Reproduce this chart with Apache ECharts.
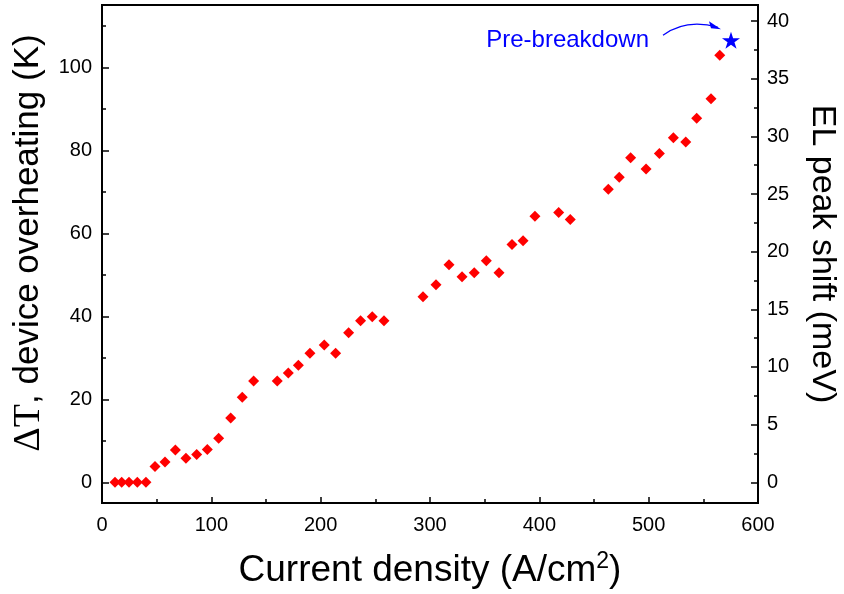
<!DOCTYPE html>
<html>
<head>
<meta charset="utf-8">
<script src="https://cdn.jsdelivr.net/npm/echarts@6/dist/echarts.min.js"></script>
<style>
html,body{margin:0;padding:0;background:#fff;}
#chart{width:844px;height:594px;}
</style>
</head>
<body>
<div id="chart"></div>
<script>
// Current density (A/cm^2)
var currentDensity = [11.9, 18.0, 24.7, 32.3, 40.2, 48.5, 57.6, 67.1, 76.8, 86.6, 96.3, 106.7, 117.7, 128.3, 138.7,
  160.3, 170.4, 179.6, 190.2, 203.3, 213.7, 225.6, 236.5, 247.2, 257.9,
  293.6, 305.5, 317.4, 329.3, 340.5, 351.5, 363.1, 375.0, 385.1, 396.0, 417.7, 428.3,
  463.1, 473.1, 483.5, 497.6, 509.8, 522.6, 533.9, 543.9, 557.0, 565.0];
// Delta T, device overheating (K)
var overheating = [0, 0, 0, 0, 0, 3.8, 4.9, 7.8, 5.8, 6.7, 7.9, 10.6, 15.5, 20.5, 24.4,
  24.4, 26.3, 28.2, 31.1, 33.1, 31.1, 36.0, 38.9, 39.9, 38.9,
  44.7, 47.6, 52.4, 49.5, 50.5, 53.4, 50.5, 57.3, 58.2, 64.1, 65.0, 63.3,
  70.6, 73.5, 78.2, 75.5, 79.2, 83.0, 82.0, 87.7, 92.4, 102.9];
var breakdownX = [575.3];
var breakdownY = [106.5];
var breakdownLabel = 'Pre-breakdown';

var xTicks = [0, 100, 200, 300, 400, 500, 600];
var leftTicks = [0, 20, 40, 60, 80, 100];
var leftMinor = [10, 30, 50, 70, 90, 110];
var rightTicks = [0, 5, 10, 15, 20, 25, 30, 35, 40];
var rightMinor = [2.5, 7.5, 12.5, 17.5, 22.5, 27.5, 32.5, 37.5];

var FONT = '"Liberation Sans", Arial, sans-serif';
var chart = echarts.init(document.getElementById('chart'), null, {renderer: 'canvas'});

var scatterData = currentDensity.map(function (x, i) { return [x, overheating[i]]; });
var starData = breakdownX.map(function (x, i) { return [x, breakdownY[i]]; });
var starPath = 'path://M50,0 L61.2,34.5 L97.6,34.5 L68.2,55.9 L79.4,90.5 L50,69.1 L20.6,90.5 L31.8,55.9 L2.4,34.5 L38.8,34.5 Z';

function yAx(opts) {
  var base = {
    type: 'value',
    splitLine: {show: false},
    axisLine: {show: true, onZero: false, lineStyle: {color: '#000', width: 2}},
    axisTick: {show: true, inside: true, length: 7, lineStyle: {color: '#000', width: 1.5}},
    axisLabel: {show: true, color: '#000', fontSize: 20, fontFamily: FONT, margin: 10}
  };
  return Object.assign(base, opts);
}

var option = {
  animation: false,
  backgroundColor: '#fff',
  grid: {left: 102, right: 86, top: 5, bottom: 91, show: true, borderColor: '#000', borderWidth: 2,
    backgroundColor: 'transparent', containLabel: false, outerBoundsMode: 'none'},
  xAxis: {
    type: 'value', min: xTicks[0], max: xTicks[xTicks.length - 1], interval: 100,
    splitLine: {show: false},
    axisLine: {show: true, onZero: false, lineStyle: {color: '#000', width: 2}},
    axisTick: {show: true, inside: true, length: 6, lineStyle: {color: '#000', width: 1.5}},
    minorTick: {show: true, splitNumber: 2, length: 4, lineStyle: {color: '#000', width: 1.5}},
    axisLabel: {color: '#000', fontSize: 20, fontFamily: FONT, margin: 12},
    name: 'Current density (A/cm{sup|2})',
    nameLocation: 'middle', nameGap: 47,
    nameTextStyle: {color: '#000', fontSize: 37, fontFamily: FONT,
      rich: {sup: {fontSize: 23, fontFamily: FONT, color: '#000', verticalAlign: 'top', padding: [0, 0, 18, 0]}}}
  },
  yAxis: [
    yAx({position: 'left', min: -5, max: 115,
      axisLabel: {show: true, color: '#000', fontSize: 20, fontFamily: FONT, margin: 10, customValues: leftTicks},
      axisTick: {show: true, inside: true, length: 7, customValues: leftTicks, lineStyle: {color: '#000', width: 1.5}},
      name: '{s|ΔT}, device overheating (K)', nameLocation: 'middle', nameGap: 52, nameRotate: 90,
      nameTextStyle: {color: '#000', fontSize: 35, fontFamily: FONT, padding: [0, 0, 0, 22],
        rich: {s: {fontSize: 38, fontFamily: '"Liberation Serif", "Times New Roman", serif', color: '#000'}}}
    }),
    yAx({position: 'left', min: -5, max: 115,
      axisLine: {show: false},
      axisLabel: {show: false},
      axisTick: {show: true, inside: true, length: 4, customValues: leftMinor, lineStyle: {color: '#000', width: 1.5}}
    }),
    yAx({position: 'right', min: -1.8, max: 41.4,
      axisLabel: {show: true, color: '#000', fontSize: 20, fontFamily: FONT, margin: 9, customValues: rightTicks},
      axisTick: {show: true, inside: true, length: 7, customValues: rightTicks, lineStyle: {color: '#000', width: 1.5}},
      name: 'EL peak shift (meV)', nameLocation: 'middle', nameGap: 47, nameRotate: -90,
      nameTextStyle: {color: '#000', fontSize: 34, fontFamily: FONT}
    }),
    yAx({position: 'right', min: -1.8, max: 41.4,
      axisLine: {show: false},
      axisLabel: {show: false},
      axisTick: {show: true, inside: true, length: 4, customValues: rightMinor, lineStyle: {color: '#000', width: 1.5}}
    })
  ],
  series: [
    {
      type: 'scatter', xAxisIndex: 0, yAxisIndex: 0,
      symbol: 'diamond', symbolSize: 11,
      itemStyle: {color: '#ff0000', opacity: 1},
      data: scatterData, z: 5
    },
    {
      type: 'scatter', xAxisIndex: 0, yAxisIndex: 0,
      symbol: starPath, symbolSize: 18, symbolKeepAspect: true,
      itemStyle: {color: '#0000ff', opacity: 1},
      label: {show: true, position: 'left', distance: 73, formatter: breakdownLabel,
        color: '#0000ff', fontSize: 24, fontFamily: FONT, opacity: 1},
      data: starData, z: 6
    }
  ]
};
chart.setOption(option);

// Curved arrow from the label to the star, placed relative to the star's pixel position
var p = chart.convertToPixel({xAxisIndex: 0, yAxisIndex: 0}, starData[0]);
var sx = p[0], sy = p[1];
var tip = [sx - 10, sy - 11];
chart.setOption({
  graphic: [
    {type: 'bezierCurve', shape: {x1: sx - 68, y1: sy - 5, cpx1: sx - 45, cpy1: sy - 22, x2: tip[0] - 3, y2: tip[1] - 2},
      style: {stroke: '#0000ff', lineWidth: 1.2, fill: null}, z: 10},
    {type: 'polygon', shape: {points: [[tip[0], tip[1]], [tip[0] - 12, tip[1] - 8], [tip[0] - 10, tip[1] - 1]]},
      style: {fill: '#0000ff'}, z: 10}
  ]
});
</script>
</body>
</html>
